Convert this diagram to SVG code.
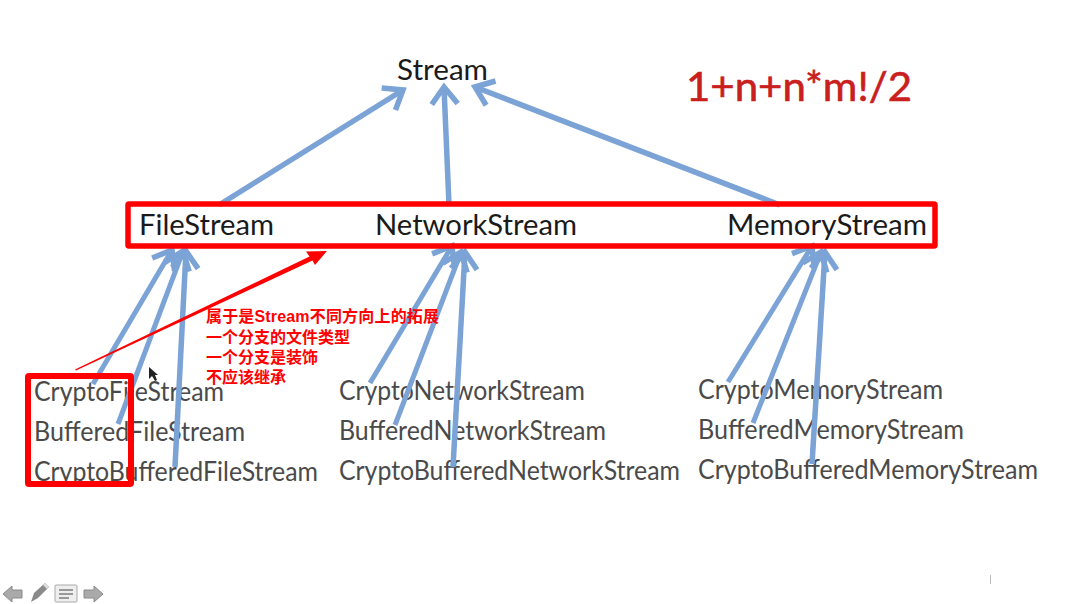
<svg xmlns="http://www.w3.org/2000/svg" width="1074" height="604" viewBox="0 0 1074 604">
<style>
text{font-family:"Lato","Open Sans","Liberation Sans",sans-serif}
.top{font-size:29px;fill:#1a1a1a}
.sub{font-size:26px;fill:#4a4a4a}
.note{font-family:"Liberation Sans","Noto Sans CJK SC",sans-serif;font-size:16px;font-weight:700;fill:#f00}
.formula{font-size:40px;fill:#c9201e;stroke:#c9201e;stroke-width:.6}
.conn{fill:none;stroke:#7ba3d6;stroke-width:5.500;marker-end:url(#open)}
.thin{stroke-width:5}
.box{fill:none;stroke:#f00;stroke-linejoin:round}
.ui{fill:#aaa;stroke:#8a8a8a;stroke-width:1}
</style>
<defs>
<marker id="open" markerUnits="userSpaceOnUse" markerWidth="36" markerHeight="36" refX="24" refY="18" orient="auto">
<path d="M7 5 L24 18 L7 31" fill="none" stroke="#7ba3d6" stroke-width="5.500"/>
</marker>
</defs>
<rect width="1074" height="604" fill="#fff"/>
<g id="formula"><text class="formula" x="686" y="101" textLength="226" lengthAdjust="spacingAndGlyphs">1+n+n*m!/2</text></g>
<g id="stream"><text class="top" x="397" y="80" textLength="91" lengthAdjust="spacingAndGlyphs">Stream</text></g>
<g id="crypto-file"><text class="sub" x="34" y="401" textLength="190" lengthAdjust="spacingAndGlyphs">CryptoFileStream</text></g>
<g id="buffered-file"><text class="sub" x="34" y="441" textLength="211" lengthAdjust="spacingAndGlyphs">BufferedFileStream</text></g>
<g id="crypto-buffered-file"><text class="sub" x="34" y="481" textLength="284" lengthAdjust="spacingAndGlyphs">CryptoBufferedFileStream</text></g>
<g id="crypto-network"><text class="sub" x="339" y="400" textLength="246" lengthAdjust="spacingAndGlyphs">CryptoNetworkStream</text></g>
<g id="buffered-network"><text class="sub" x="339" y="440" textLength="267" lengthAdjust="spacingAndGlyphs">BufferedNetworkStream</text></g>
<g id="crypto-buffered-network"><text class="sub" x="339" y="480" textLength="341" lengthAdjust="spacingAndGlyphs">CryptoBufferedNetworkStream</text></g>
<g id="crypto-memory"><text class="sub" x="698" y="399" textLength="245" lengthAdjust="spacingAndGlyphs">CryptoMemoryStream</text></g>
<g id="buffered-memory"><text class="sub" x="698" y="439" textLength="266" lengthAdjust="spacingAndGlyphs">BufferedMemoryStream</text></g>
<g id="crypto-buffered-memory"><text class="sub" x="698" y="479" textLength="340" lengthAdjust="spacingAndGlyphs">CryptoBufferedMemoryStream</text></g>
<g id="connectors">
<line class="conn" x1="219" y1="205" x2="403" y2="90"/>
<line class="conn" x1="449" y1="205" x2="444" y2="87"/>
<line class="conn" x1="780" y1="205" x2="475" y2="87"/>
<line class="conn thin" x1="93" y1="384" x2="172" y2="250"/>
<line class="conn thin" x1="118" y1="424" x2="183" y2="251"/>
<line class="conn" x1="175" y1="467" x2="186" y2="251"/>
<line class="conn thin" x1="370" y1="383" x2="452" y2="246"/>
<line class="conn thin" x1="395" y1="425" x2="461" y2="252"/>
<line class="conn" x1="453" y1="467" x2="465" y2="252"/>
<line class="conn thin" x1="728" y1="382" x2="812" y2="246"/>
<line class="conn thin" x1="753" y1="423" x2="821" y2="252"/>
<line class="conn" x1="812" y1="464" x2="825" y2="252"/>
<path id="red-arrow" d="M75 369.500 L309.500 256.500 L306 251.500 L327 251 L315 265 L312.500 260.500 L76 370.500 Z" fill="#f00"/>
</g>
<g id="file-stream"><text class="top" x="139" y="235" textLength="135" lengthAdjust="spacingAndGlyphs">FileStream</text></g>
<g id="network-stream"><text class="top" x="375" y="235" textLength="202" lengthAdjust="spacingAndGlyphs">NetworkStream</text></g>
<g id="memory-stream"><text class="top" x="727" y="235" textLength="200" lengthAdjust="spacingAndGlyphs">MemoryStream</text></g>
<g id="highlight-middle"><rect class="box" x="128" y="204" width="807" height="42" rx="1" stroke-width="5.500"/></g>
<g id="highlight-left"><rect class="box" x="28" y="376" width="103" height="108" rx="1" stroke-width="6"/></g>
<g id="note">
<text class="note" x="206" y="322" textLength="233">属于是Stream不同方向上的拓展</text>
<text class="note" x="206" y="343">一个分支的文件类型</text>
<text class="note" x="206" y="363">一个分支是装饰</text>
<text class="note" x="206" y="383">不应该继承</text>
</g>
<path id="cursor" d="M149 367 L149 379 L152 376 L155 381 L157 380 L155 375 L158 375 Z" fill="#222"/>
<g id="slide-controls">
<path class="ui" d="M3 594 L12 586 L12 590 L22 590 L22 598 L12 598 L12 602 Z"/>
<path d="M31 602 L34 593 L45 583 L49 587 L38 598 Z" fill="#8a8a8a"/>
<path d="M43 585 L45 583 L49 587 L47 589 Z" fill="#ddd"/>
<rect x="55" y="585" width="22" height="17" rx="1" fill="#eee" stroke="#aaa"/>
<path d="M59 590 H73 M59 594 H73 M59 598 H69" stroke="#999" stroke-width="2"/>
<path class="ui" d="M103 594 L94 586 L94 590 L84 590 L84 598 L94 598 L94 602 Z"/>
</g>
<line id="page-mark" x1="990.500" y1="575" x2="990.500" y2="584" stroke="#bbb" stroke-width="1"/>
</svg>
